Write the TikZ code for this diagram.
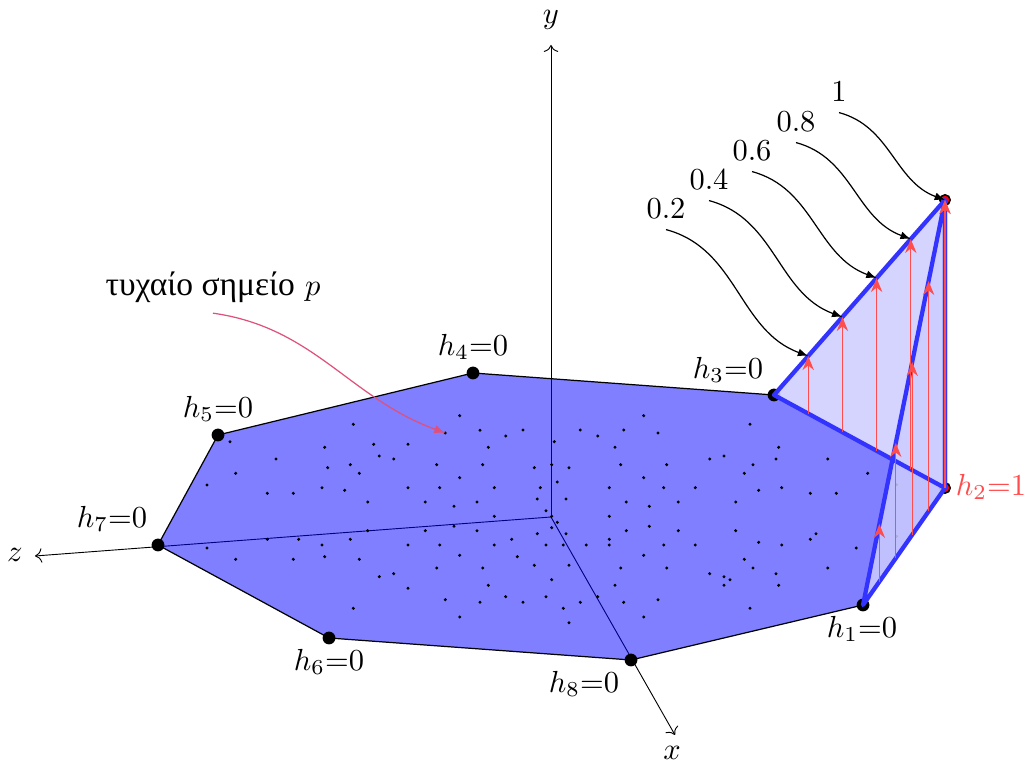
\documentclass[tikz,border=0pt]{standalone}
\usepackage{amsmath}
\usepackage{fontspec}
\usetikzlibrary{arrows.meta,calc}
\newfontfamily\grfont{Liberation Serif}
\definecolor{PointRed}{HTML}{E0507A}
\tikzset{
  vertex/.style={circle,fill=black,inner sep=0pt,minimum size=4.2pt},
  topvertex/.style={circle,draw=black,fill=red,line width=0.5pt,inner sep=0pt,minimum size=3.4pt},
  sheet/.style={fill=blue!20,fill opacity=0.85},
  edge/.style={blue!80,line width=1.4pt,line join=round},
  lift/.style={red!70,line width=0.45pt,-{Stealth[length=4.6pt,width=3.7pt,inset=1.5pt]}},
  lead/.style={-{Latex[length=3.4pt,width=2.6pt]}},
  axis/.style={line width=0.3pt,->}
}
\begin{document}
\begin{tikzpicture}[x=0.328pt,y=-0.328pt]
  \useasboundingbox (0,0) rectangle (1027,765);
  % axes
  \coordinate (O) at (551,517);
  \coordinate (xend) at (675,735);
  \coordinate (yend) at (551,45);
  \coordinate (zend) at (35,556);
  \draw[axis] (O) -- (xend);
  \draw[axis] (O) -- (yend);
  \draw[axis] (O) -- (zend);
  \node (xlab) at (672,753) {$x$};
  \node (ylab) at (551,20) {$y$};
  \node (zlab) at (15,555) {$z$};
  % polygon
  \coordinate (h1) at (863,605);
  \coordinate (h2) at (945,488);
  \coordinate (h3) at (774,395);
  \coordinate (h4) at (473,373);
  \coordinate (h5) at (218,435);
  \coordinate (h7) at (158,545);
  \coordinate (h6) at (329,638);
  \coordinate (h8) at (631,660);
  \coordinate (top) at (945,200);
  \draw[fill=blue,fill opacity=0.5] (h1) -- (h2) -- (h3) -- (h4) -- (h5) -- (h7) -- (h6) -- (h8) -- cycle;
  % random points
  \foreach \pt in {(459.7,415.7),(353.3,424.3),(230,441.7),(445.3,433),(480,430.3),(505.7,436),(324.7,447.3),(373.7,444.3),(408,444.3),(488.3,447.3),(276,459),(379.3,456),(393.7,459),(327.7,467.7),(350.3,464.7),(436.7,464.7),(482.7,464.7),(235.7,473.3),(359.3,473.3),(459.7,477.7),(207,485),(322,487.7),(408,487.7),(439.7,487.7),(494.3,487.7),(267.3,493.3),(293.3,493.3),(344.7,490.3),(367.7,502),(425.3,502),(454,506.3),(477,502),(494.3,516.3),(454,526.3),(367.7,530.7),(425.3,530.7),(477,530.7),(267.3,539.3),(298.7,539.3),(350.3,539.3),(511.7,539.3),(322,545),(408,545),(439.7,545),(494.3,545),(207,548),(324.7,556.7),(459.7,555.3),(517.3,556.7),(235.7,559.3),(293.3,559.3),(359.3,559.3),(436.7,568),(482.7,568),(379.3,576.7),(393.7,573.7),(408,588.3),(488.3,585.3),(505.7,596.7),(445.3,599.7),(480,602.3),(353.3,608.3),(459.7,617),
    (643.7,415.7),(523,430),(580.3,430),(623.7,430),(658,433),(750,424.3),(597.7,436),(554.3,441.7),(615,447.3),(778.7,447.3),(709.7,459),(724,456),(776,459),(827.7,459),(534.3,467.7),(551.7,464.7),(569,467.7),(620.7,464.7),(666.7,464.7),(753,464.7),(744.3,473.3),(557.3,482),(643.7,477.7),(540.3,487.7),(609.3,487.7),(663.7,487.7),(695.3,487.7),(781.7,487.7),(758.7,490.3),(810.3,493.3),(836.3,493.3),(537.3,499),(566,499),(626.3,502),(678.3,502),(735.7,502),(649.3,506.3),(546,510.7),(551.7,516.3),(609.3,516.3),(557.3,522.3),(551.7,527.7),(649.3,526.3),(537.3,533.7),(566,533.7),(626.3,530.7),(678.3,530.7),(735.7,530.7),(816,533.7),(609.3,539.3),(810.3,539.3),(546,545),(563.3,545),(586.3,545),(609.3,545),(663.7,545),(695.3,545),(758.7,542.3),(781.7,545),(643.7,555.3),(744.3,559.3),(534.3,565.3),(569,565.3),(620.7,568),(666.7,568),(753,568),(827.7,568),(709.7,573.7),(776,573.7),(724,576.7),(730,579.7),(551.7,579.7),(615,585.3),(724,585.3),(778.7,585.3),(546,596.7),(597.7,596.7),(523,602.3),(580.3,602.3),(623.7,602.3),(658,599.7),(563.3,608.3),(750,608.3),(569,622.7),(643.7,617),
    (867.7,473.3),(856.3,548),(896.7,484.7),(896.7,536.3)}
    \fill \pt circle[radius=0.55pt];
  \coordinate (p) at (445.3,433);
  % vertices
  \foreach \v in {h1,h3,h4,h5,h6,h7,h8} \node[vertex] (dot\v) at (\v) {};
  \foreach \v in {h2,top} \node[topvertex] (dot\v) at (\v) {};
  % lifted faces
  \fill[sheet] (h3) -- (top) -- (h2) -- cycle;
  \fill[sheet] (h1) -- (top) -- (h2) -- cycle;
  \draw[edge] (h3) -- (top) -- (h2) -- cycle;
  \draw[edge] (h1) -- (top) -- (h2) -- cycle;
  \foreach \f in {0.2,0.4,0.6,0.8,1} {
    \draw[lift] ($(h3)!\f!(h2)$) -- ($(h3)!\f!(top)$);
    \draw[lift] ($(h1)!\f!(h2)$) -- ($(h1)!\f!(top)$);
  }
  % labels
  \node (l1) at (862,629) {$h_1{=}0$};
  \node[text=red!70] (l2) at (991,487) {$h_2{=}1$};
  \node (l3) at (728,370) {$h_3{=}0$};
  \node (l4) at (473,347) {$h_4{=}0$};
  \node (l5) at (218,409) {$h_5{=}0$};
  \node (l6) at (329,662) {$h_6{=}0$};
  \node (l7) at (112,519) {$h_7{=}0$};
  \node (l8) at (584,684) {$h_8{=}0$};
  % height labels
  \foreach \i/\f/\a/\b in {2/0.2/666/209,4/0.4/709/180,6/0.6/752/151,8/0.8/796/122,10/1/839/92} {
    \node (n\i) at (\a,\b) {$\f$};
    \coordinate (t\i) at ($(h3)!\f!(top)$);
    \draw[lead] (n\i.south) to[out=-15,in=160] (t\i);
  }
  \node (plab) at (213,287) {{\grfont\fontsize{11}{13}\selectfont τυχαίο σημείο} $p$};
  \draw[PointRed,-{Latex[length=3.6pt,width=2.8pt]}] (plab.south) to[out=-8,in=160] (p);
\end{tikzpicture}
\end{document}
